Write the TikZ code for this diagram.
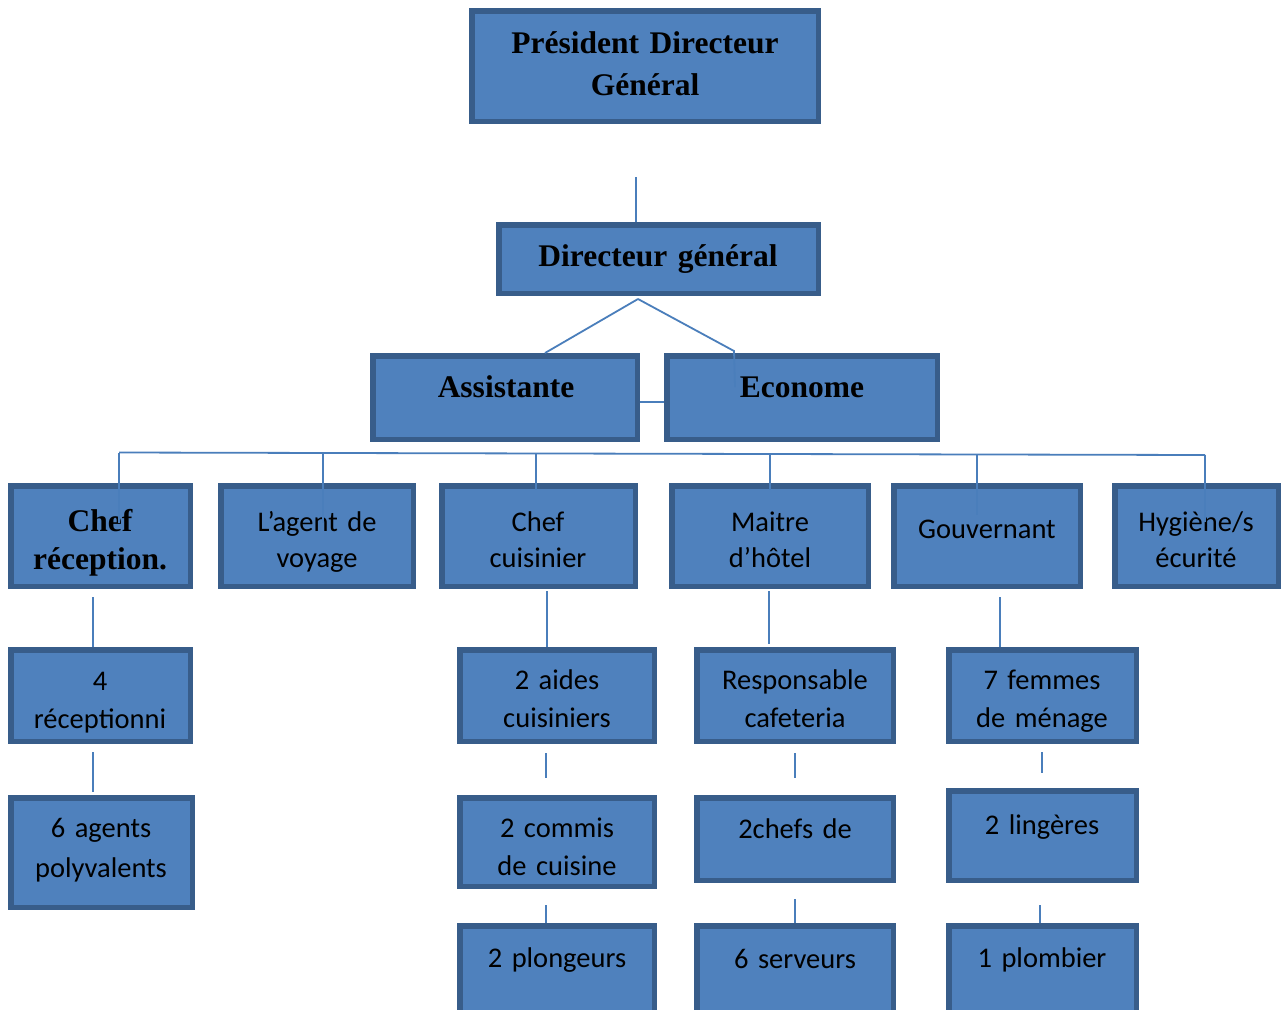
\documentclass[tikz,border=0pt]{standalone}
\usepackage{fontspec}
\usetikzlibrary{fit}
\newfontfamily\tnrfont{Liberation Serif}
\newfontfamily\calfont{Carlito}
\definecolor{boxfill}{HTML}{4F81BD}
\definecolor{boxline}{HTML}{385D8A}
\definecolor{connline}{HTML}{4A7EBB}
\tikzset{
  orgbox/.style={draw=boxline, fill=boxfill, line width=5.5pt, inner sep=0pt, rectangle},
  conn/.style={draw=connline, line width=1.8pt},
  ttext/.style={font=\tnrfont\bfseries\fontsize{31.5}{42}\selectfont, text width=340pt, align=center, anchor=base, inner sep=0pt},
  ctext/.style={font=\calfont\fontsize{28.5}{37}\selectfont, text width=220pt, align=center, anchor=base, inner sep=0pt},
}
\newcommand{\obox}[5]{\node[orgbox, fit={(#2+2.75,#3+2.75) (#4-2.75,#5-2.75)}] (#1) {};}
\begin{document}
\begin{tikzpicture}[x=1pt,y=-1pt]
\useasboundingbox (0,0) rectangle (1281,1009);
\clip (0,0) rectangle (1281,1009);
\fill[white] (0,0) rectangle (1281,1009);
% boxes
\obox{pdg}{469}{8}{821}{124}
\obox{dg}{496}{222}{821}{296}
\obox{as}{370}{353}{640}{442}
\obox{ec}{664}{353}{940}{442}
\obox{cr}{8}{483}{193}{589}
\obox{av}{218}{483}{416}{589}
\obox{cc}{439}{483}{638}{589}
\obox{mh}{669}{483}{871}{589}
\obox{gv}{891}{483}{1083}{589}
\obox{hs}{1112}{483}{1281}{589}
\obox{ra}{8}{647}{193}{744}
\obox{ca}{457}{647}{657}{744}
\obox{ma}{694}{647}{896}{744}
\obox{ga}{946}{647}{1139}{744}
\obox{rb}{8}{795}{195}{910}
\obox{cb}{457}{795}{657}{889}
\obox{mb}{694}{795}{896}{883}
\obox{gb}{946}{788}{1139}{883}
\obox{cx}{457}{923}{657}{1030}
\obox{mx}{694}{923}{896}{1030}
\obox{gx}{946}{923}{1139}{1030}
% texts
\node[ttext] (tpdg) at (645,53) {Président Directeur\\Général};
\node[ttext] (tdg) at (658,266) {Directeur général};
\node[ttext] (tas) at (506,397) {Assistante};
\node[ttext] (tec) at (802,397) {Econome};
\node[ttext, font=\tnrfont\bfseries\fontsize{31.5}{38}\selectfont] (tcr) at (100,531) {Chef\\réception.};
\node[ctext, font=\calfont\fontsize{28.5}{36}\selectfont] (tav) at (317,531) {L’agent de\\voyage};
\node[ctext, font=\calfont\fontsize{28.5}{36}\selectfont] (tcc) at (538,531) {Chef\\cuisinier};
\node[ctext, font=\calfont\fontsize{28.5}{36}\selectfont] (tmh) at (770,531) {Maitre\\d’hôtel};
\node[ctext] (tgv) at (987,538) {Gouvernant};
\node[ctext, font=\calfont\fontsize{28.5}{36}\selectfont] (ths) at (1196,531) {Hygiène/s\\écurité};
\node[ctext, font=\calfont\fontsize{28.5}{38}\selectfont] (tra) at (100,690) {4\\réceptionni};
\node[ctext, font=\calfont\fontsize{28.5}{38}\selectfont] (tca) at (557,689) {2 aides\\cuisiniers};
\node[ctext, font=\calfont\fontsize{28.5}{38}\selectfont] (tma) at (795,689) {Responsable\\cafeteria};
\node[ctext, font=\calfont\fontsize{28.5}{38}\selectfont] (tga) at (1042,689) {7 femmes\\de ménage};
\node[ctext, font=\calfont\fontsize{28.5}{40}\selectfont] (trb) at (101,837) {6 agents\\polyvalents};
\node[ctext, font=\calfont\fontsize{28.5}{38}\selectfont] (tcb) at (557,837) {2 commis\\de cuisine};
\node[ctext] (tmb) at (795,838) {2chefs de};
\node[ctext] (tgb) at (1042,834) {2 lingères};
\node[ctext] (tcx) at (557,967) {2 plongeurs};
\node[ctext] (tmx) at (795,968) {6 serveurs};
\node[ctext] (tgx) at (1042,967) {1 plombier};
% connector coordinates
\coordinate (p0) at (636,177);
\coordinate (ap) at (638,299);
\coordinate (ecb) at (734,351);
\coordinate (ece) at (735,387);
\coordinate (busl) at (119,452.5);
\coordinate (busr) at (1205,455);
% connectors
\draw[conn] (p0) -- (p0 |- dg.north);
\draw[conn] (ap) -- (545,353);
\draw[conn] (ap) -- (ecb) -- (ece);
\draw[conn] ([yshift=-4.5pt]as.east) -- ([yshift=-4.5pt]ec.west);
\draw[conn] (busl) -- (busr);
\draw[conn] (busl) -- (119,523);
\draw[conn] (323,453) -- (323,523);
\draw[conn] (536,453.5) -- (536,490);
\draw[conn] (770,454) -- (770,490);
\draw[conn] (977,454) -- (977,515);
\draw[conn] (busr) -- (1205,522);
% lower stubs
\draw[conn] (93,597) -- (93,0 |- ra.north);
\draw[conn] (547,591) -- (547,0 |- ca.north);
\draw[conn] (769,591) -- (769,644);
\draw[conn] (1000,597) -- (1000,0 |- ga.north);
\draw[conn] (93,752) -- (93,792);
\draw[conn] (546,753) -- (546,778);
\draw[conn] (795,753) -- (795,778);
\draw[conn] (1042,752) -- (1042,773);
\draw[conn] (546,905) -- (546,0 |- cx.north);
\draw[conn] (795,899) -- (795,0 |- mx.north);
\draw[conn] (1040,905) -- (1040,0 |- gx.north);
\end{tikzpicture}
\end{document}
